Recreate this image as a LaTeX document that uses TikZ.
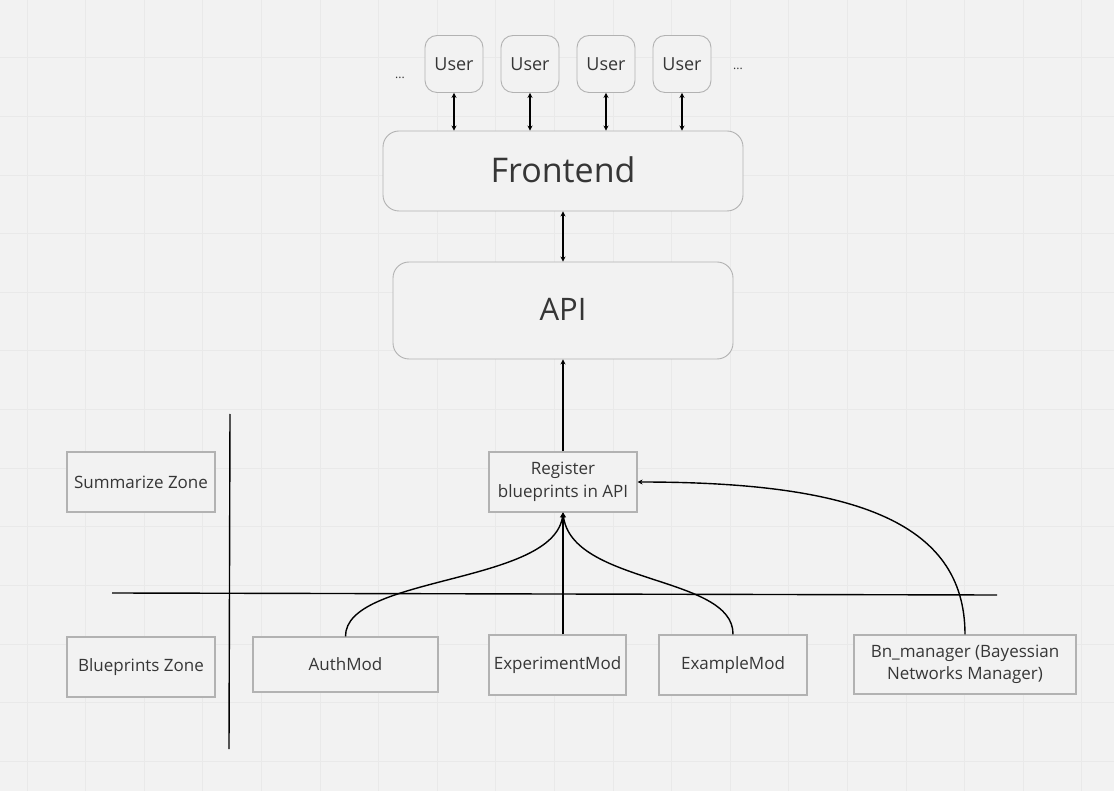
\documentclass[tikz,border=0pt]{standalone}
\usepackage{fontspec}
\setmainfont{Open Sans}
\usetikzlibrary{arrows.meta}
\definecolor{bg}{HTML}{F2F2F2}
\definecolor{gridc}{HTML}{E9E9E9}
\definecolor{boxc}{HTML}{B2B2B2}
\definecolor{txt}{HTML}{363636}
\tikzset{
  rbox/.style={draw=boxc, line width=0.9pt, fill=bg, rounded corners=#1, text=txt, inner sep=0pt},
  sbox/.style={draw=boxc, line width=1.1pt, fill=bg, text=txt, inner sep=0pt, align=center, font=\fontsize{17}{22.5}\selectfont},
  conn/.style={black, line width=1.4pt},
  tip/.style={-{Stealth[length=5pt,width=5pt]}},
  dtip/.style={{Stealth[length=5pt,width=5pt]}-{Stealth[length=5pt,width=5pt]}},
  dots/.style={text=txt, font=\fontsize{12}{12}\selectfont}
}
\begin{document}
\begin{tikzpicture}[x=1pt,y=-1pt]
\fill[bg] (0,0) rectangle (1114,791);
\useasboundingbox (0,0) rectangle (1114,791);
% grid
\foreach \i in {0,...,18} {
  \draw[gridc, line width=1pt] ({27+58.6*\i},0) -- ({27+58.6*\i},791);
}
\foreach \j in {0,...,13} {
  \draw[gridc, line width=1pt] (0,{58+58.6*\j}) -- (1114,{58+58.6*\j});
}
% users
\node[rbox=12pt, minimum width=58pt, minimum height=57pt, font=\fontsize{18}{18}\selectfont] (u1) at (454,64) {User};
\node[rbox=12pt, minimum width=58pt, minimum height=57pt, font=\fontsize{18}{18}\selectfont] (u2) at (530,64) {User};
\node[rbox=12pt, minimum width=58pt, minimum height=57pt, font=\fontsize{18}{18}\selectfont] (u3) at (606,64) {User};
\node[rbox=12pt, minimum width=58pt, minimum height=57pt, font=\fontsize{18}{18}\selectfont] (u4) at (682,64) {User};
\node[dots] (d1) at (400,78) {...};
\node[dots] (d2) at (738,69) {...};
% frontend & api
\node[rbox=16pt, minimum width=360pt, minimum height=80pt, font=\fontsize{34}{34}\selectfont] (fe) at (563,171) {\raisebox{3pt}{Frontend}};
\node[rbox=16pt, minimum width=340pt, minimum height=97pt, font=\fontsize{31}{31}\selectfont] (api) at (563,310.5) {\raisebox{2pt}{API}};
% register
\node[sbox, minimum width=148pt, minimum height=60pt] (reg) at (563,482) {Register\\blueprints in API};
% zones
\node[sbox, minimum width=148pt, minimum height=60pt] (sz) at (141,482) {Summarize Zone};
\node[sbox, minimum width=148pt, minimum height=60pt] (bz) at (141,667) {Blueprints Zone};
% modules
\node[sbox, minimum width=185pt, minimum height=55pt] (auth) at (345.5,664.5) {AuthMod};
\node[sbox, minimum width=137pt, minimum height=60pt] (exp) at (557.5,665) {ExperimentMod};
\node[sbox, minimum width=148pt, minimum height=60pt] (exa) at (733,665) {ExampleMod};
\node[sbox, minimum width=222pt, minimum height=59pt] (bn) at (965,664.5) {Bn\_manager (Bayessian\\Networks Manager)};
% separators
\coordinate (vt) at (230,414);
\coordinate (vb) at (229,749);
\coordinate (hl) at (112,593);
\coordinate (hr) at (997,595);
\draw[conn] (vt) -- (vb);
\draw[conn] (hl) -- (hr);
% user arrows
\foreach \u in {u1,u2,u3,u4} {
  \draw[conn, dtip] (\u.south) -- (\u.south |- fe.north);
}
\draw[conn, dtip] (fe.south) -- (api.north);
\draw[conn, tip] (reg.north) -- (api.south);
% module connectors
\draw[conn, tip] (auth.north) .. controls (345,575) and (555,585) .. (reg.south);
\draw[conn, tip] (reg.south |- exp.north) -- (reg.south);
\draw[conn, tip] (exa.north) .. controls (734,575) and (571,585) .. (reg.south);
\draw[conn, tip] (bn.north) .. controls (965,520) and (850,482) .. (reg.east);
\end{tikzpicture}
\end{document}
